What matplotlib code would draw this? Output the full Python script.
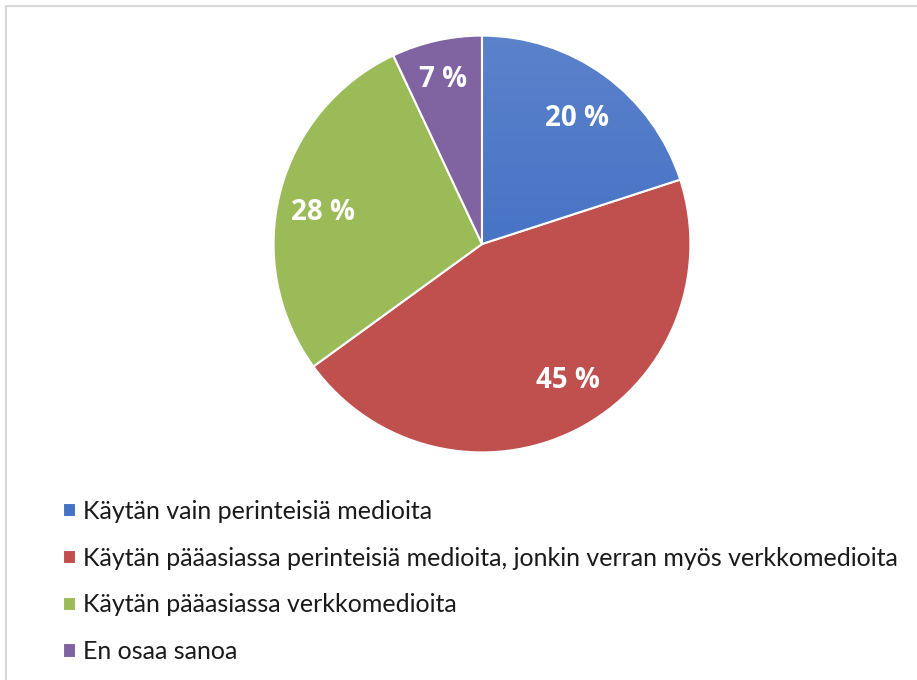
import matplotlib
matplotlib.use("Agg")
import matplotlib.pyplot as plt
import numpy as np
from matplotlib.patches import Rectangle, Wedge
from matplotlib.colors import LinearSegmentedColormap

categories = [
    "Käytän vain perinteisiä medioita",
    "Käytän pääasiassa perinteisiä medioita, jonkin verran myös verkkomedioita",
    "Käytän pääasiassa verkkomedioita",
    "En osaa sanoa",
]
values = [20, 45, 28, 7]
colors = ["#4472C4", "#C0504D", "#9BBB59", "#8064A2"]

# label positions (layout, in units of pie radius, relative to the centre)
label_offsets = [(0.455, 0.60), (0.41, -0.655), (-0.765, 0.15), (-0.185, 0.79)]

plt.rcParams['font.family'] = ['Lato', 'DejaVu Sans']

W, H = 917, 680
fig = plt.figure(figsize=(W / 100, H / 100), dpi=100)
fig.patch.set_facecolor("white")

# figure border (light gray, left & top visible)
fig.add_artist(Rectangle((5.5 / W, -0.05), 1.2, (H - 5.5) / H + 0.05,
                         transform=fig.transFigure, fill=False,
                         edgecolor="#D9D9D9", linewidth=1.5))

cx, cy, R = 482, 244, 210.5
ax = fig.add_axes([(cx - R) / W, (H - cy - R) / H, 2 * R / W, 2 * R / H])
ax.axis("off")

wedges, texts, autotexts = ax.pie(
    values, colors=colors, startangle=90, counterclock=False, radius=1,
    autopct=lambda p: f"{p:.0f} %", pctdistance=0.78,
    wedgeprops=dict(edgecolor="white", linewidth=1.5),
    textprops=dict(color="white", fontsize=20, fontweight="bold",
                   family=["Open Sans", "DejaVu Sans"]),
)
for t, (dx, dy) in zip(autotexts, label_offsets):
    t.set_position((dx, dy))
    t.set_zorder(10)

# gradient on the blue wedge
grad = np.linspace(0, 1, 256).reshape(-1, 1)
cmap = LinearSegmentedColormap.from_list("bl", ["#3465C0", "#5B82CB"])
im = ax.imshow(grad, extent=[-1, 1, -1, 1], origin="lower", cmap=cmap,
               aspect="auto", zorder=wedges[0].get_zorder() + 0.1)
im.set_clip_path(wedges[0])
edge = Wedge((0, 0), 1, wedges[0].theta1, wedges[0].theta2,
             facecolor="none", edgecolor="white", linewidth=1.5,
             zorder=im.get_zorder() + 0.1)
ax.add_patch(edge)
ax.set_xlim(-1.01, 1.01)
ax.set_ylim(-1.01, 1.01)

leg = fig.legend(wedges, categories, loc="upper left",
                 bbox_to_anchor=(63 / W, 1 - 500 / H),
                 frameon=False, fontsize=18, handlelength=0.5, handleheight=0.5,
                 handletextpad=0.3, labelspacing=0.95, borderaxespad=0,
                 borderpad=0)
for txt in leg.get_texts():
    txt.set_color("#1a1a1a")

fig.savefig("out.png", dpi=100)
